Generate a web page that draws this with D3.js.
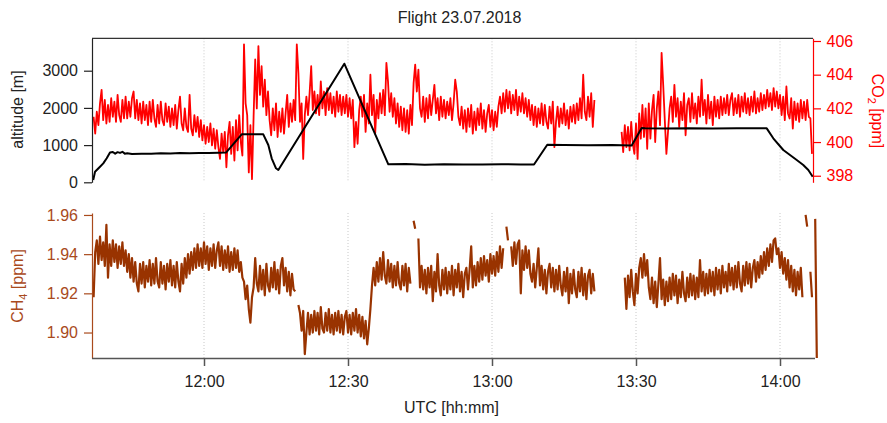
<!DOCTYPE html>
<html>
<head>
<meta charset="utf-8">
<script src="https://cdn.jsdelivr.net/npm/d3@7"></script>
<style>
  html, body { margin: 0; padding: 0; background: #fff; }
  svg { display: block; font-family: "Liberation Sans", Arial, sans-serif; }
</style>
</head>
<body>
<svg id="chart" width="887" height="423"></svg>
<script>
// ---- labels and ticks ----
const chartTitle = "Flight 23.07.2018";
const timeTicks = ["12:00", "12:30", "13:00", "13:30", "14:00"];
const altitudeTicks = [0, 1000, 2000, 3000];
const co2Ticks = [398, 400, 402, 404, 406];
const ch4Ticks = [1.90, 1.92, 1.94, 1.96];

// ---- flight altitude (UTC time, metres) ----
const altitudeTimes = ["11:36:55","11:37:18","11:38:20","11:39:01","11:39:44","11:40:25","11:41:00","11:41:30","11:42:00","11:42:30",
  "11:43:00","11:43:30","11:44:00","11:45:00","11:47:00","11:49:00","11:51:00","11:53:00","11:55:00","11:57:00",
  "11:59:00","12:01:00","12:03:00","12:04:35","12:07:51","12:12:21","12:13:24","12:14:06","12:15:00","12:15:29",
  "12:29:14","12:38:24","12:42:00","12:46:00","12:50:00","12:54:00","12:58:00","13:02:00","13:06:00","13:08:45",
  "13:11:31","13:15:00","13:20:00","13:25:00","13:29:06","13:31:11","13:31:54","13:36:00","13:41:00","13:46:00",
  "13:51:00","13:57:14","13:58:36","14:00:41","14:02:05","14:03:29","14:04:51","14:05:54","14:06:49"];
const altitudeValues = [60,285,420,510,645,800,815,770,810,790,
  820,770,780,760,770,765,780,775,785,780,
  790,785,795,800,1290,1290,1003,645,376,330,
  3188,484,490,475,485,480,478,486,480,480,
  1010,1000,995,1000,990,1460,1450,1445,1455,1448,
  1452,1450,1183,868,734,600,465,331,150];

// ---- trace gas samples: one value every 20 s from 11:37:00 UTC, null = no data ----
const sampleStart = "11:37:00";
const sampleStepSeconds = 20;

const co2Values = [
  401.5,400.5,401.8,401.0,402.3,403.1,401.3,402.5,401.1,402.2,
  401.2,402.6,401.5,402.4,401.2,402.8,401.6,401.2,402.5,401.4,
  402.7,401.4,402.4,401.5,402.6,403.0,401.4,402.5,401.3,402.3,
  401.1,402.4,401.3,402.2,401.0,402.4,401.2,402.5,401.4,400.9,
  402.2,401.1,402.4,401.3,401.0,402.3,401.2,402.1,400.9,402.0,
  401.0,402.2,400.8,401.9,402.7,401.1,400.7,402.0,400.9,400.6,
  402.8,400.8,400.4,401.6,400.6,401.5,400.3,401.3,400.1,401.0,
  399.9,400.9,400.0,401.1,399.8,400.8,399.6,400.7,399.7,399.0,
  400.5,399.4,400.6,398.5,400.4,401.2,399.3,400.9,398.9,401.3,
  399.5,401.6,400.0,399.2,405.8,402.3,401.6,398.2,401.0,397.8,
  401.5,404.9,402.0,405.7,402.8,404.5,402.1,403.7,401.6,403.0,
  401.3,400.4,402.0,400.7,402.3,400.3,401.8,400.6,402.0,400.5,
  401.7,402.8,400.9,402.3,401.2,402.5,401.3,405.8,404.1,401.2,
  402.3,399.0,401.6,402.7,401.6,402.9,404.5,401.9,403.0,401.7,
  402.8,401.6,403.6,402.0,403.0,401.6,403.2,401.9,402.9,401.7,
  402.7,401.5,403.0,401.8,402.8,401.6,402.7,401.7,402.8,401.5,
  402.6,401.4,402.5,399.7,401.2,399.9,401.9,402.7,401.5,402.8,
  400.6,402.3,401.1,404.0,401.6,402.8,400.5,402.5,401.4,402.9,
  401.7,403.1,401.6,404.7,403.6,401.8,402.9,401.5,402.6,401.1,
  402.3,400.9,402.1,400.7,402.0,400.6,401.9,400.5,402.2,401.0,
  403.5,404.6,403.0,404.3,402.0,401.5,402.7,401.2,402.6,401.4,
  402.8,401.6,402.5,403.4,401.7,402.6,401.3,402.7,401.5,402.5,
  401.4,402.4,401.6,402.6,401.3,402.3,403.7,403.0,401.5,401.0,
  402.1,400.8,401.9,400.6,402.0,400.9,402.2,400.5,401.8,400.7,
  402.0,401.0,402.3,400.8,401.9,400.6,401.7,402.2,400.9,401.9,
  400.7,401.8,400.9,402.1,402.7,401.7,402.9,401.8,403.1,402.0,
  403.0,401.7,402.8,401.9,403.1,401.6,402.7,401.8,402.9,401.7,
  402.6,401.5,402.5,401.3,402.2,401.0,402.1,400.9,402.0,401.1,
  402.3,401.0,402.2,401.2,400.8,402.1,401.1,402.4,399.7,401.2,
  402.1,400.9,402.0,401.1,402.3,401.0,401.9,400.8,402.1,401.2,
  402.2,401.1,402.3,401.3,402.6,401.4,404.0,401.8,401.3,402.7,
  401.5,402.9,400.9,402.5,null,null,null,null,null,null,
  null,null,null,null,null,null,null,null,null,null,
  400.6,399.4,401.0,399.7,400.9,399.5,401.2,399.9,399.3,401.1,
  399.0,401.7,400.2,402.2,400.3,402.0,399.6,402.3,400.2,401.9,
  402.8,400.0,402.0,403.0,401.0,405.3,403.4,401.3,399.3,400.6,
  402.0,402.7,401.2,403.4,401.5,402.6,400.9,402.4,401.3,402.9,
  400.4,402.2,402.6,401.2,402.9,401.4,402.3,401.1,402.7,401.5,
  403.7,401.6,402.5,401.1,402.8,401.4,402.4,401.0,402.7,401.5,
  402.5,401.4,402.7,401.6,402.6,401.7,402.8,401.6,402.5,402.9,
  401.6,402.6,401.7,402.8,401.5,402.7,401.8,402.9,401.7,402.6,
  401.6,402.7,401.8,403.0,401.7,402.6,401.8,402.9,401.9,402.8,
  402.0,403.1,402.1,402.9,401.9,403.2,402.1,403.0,402.0,402.8,
  401.6,402.7,401.3,403.3,401.7,401.4,402.6,400.8,402.4,401.3,
  402.3,401.2,402.5,401.4,402.4,401.3,402.5,401.5,401.4,399.3
];

const ch4Values = [
  1.918,1.941,1.947,1.935,1.949,1.937,1.946,1.934,1.955,1.928,
  1.945,1.934,1.947,1.936,1.945,1.933,1.944,1.935,1.946,1.934,
  1.942,1.931,1.940,1.928,1.938,1.926,1.936,1.925,1.921,1.935,
  1.925,1.936,1.923,1.934,1.926,1.937,1.924,1.935,1.925,1.938,
  1.926,1.923,1.936,1.925,1.934,1.922,1.935,1.926,1.937,1.924,
  1.934,1.923,1.936,1.926,1.921,1.935,1.925,1.938,1.928,1.940,
  1.930,1.941,1.932,1.943,1.933,1.945,1.934,1.943,1.933,1.946,
  1.935,1.944,1.932,1.943,1.934,1.945,1.933,1.942,1.946,1.934,
  1.944,1.932,1.942,1.933,1.944,1.931,1.941,1.932,1.943,1.933,
  1.942,1.931,1.936,1.928,1.926,1.917,1.924,1.912,1.905,1.918,
  1.923,1.938,1.925,1.921,1.934,1.922,1.932,1.919,1.935,1.924,
  1.921,1.933,1.923,1.936,1.922,1.932,1.920,1.934,1.938,1.924,
  1.933,1.921,1.931,1.919,1.930,1.922,1.921,null,1.914,1.910,
  1.901,1.911,1.889,1.900,1.910,1.899,1.909,1.900,1.911,1.901,
  1.910,1.899,1.913,1.902,1.900,1.910,1.901,1.912,1.900,1.909,
  1.899,1.910,1.901,1.911,1.900,1.909,1.899,1.908,1.911,1.900,
  1.909,1.899,1.910,1.901,1.912,1.900,1.909,1.898,1.908,1.897,
  1.906,1.894,1.902,1.912,1.924,1.933,1.924,1.936,1.926,1.938,
  1.927,1.941,1.929,1.925,1.937,1.926,1.935,1.923,1.934,1.924,
  1.936,1.925,1.922,1.934,1.924,1.935,1.921,1.933,1.925,null,
  1.957,1.953,null,1.948,1.923,1.934,1.922,1.932,1.920,1.933,
  1.923,1.934,1.916,1.931,1.921,1.940,1.924,1.919,1.932,1.922,
  1.933,1.920,1.931,1.922,1.934,1.919,1.932,1.923,1.935,1.921,
  1.931,1.918,1.930,1.933,1.922,1.932,1.944,1.923,1.934,1.924,
  1.936,1.926,1.938,1.927,1.939,1.929,1.937,1.926,1.940,1.930,
  1.939,1.929,1.941,1.931,1.944,1.933,1.943,null,1.954,1.947,
  null,1.944,1.934,1.946,1.935,1.945,1.947,1.920,1.942,1.932,
  1.944,1.933,1.942,1.930,1.926,1.935,1.923,1.933,1.943,1.924,
  1.934,1.922,1.932,1.920,1.931,1.935,1.923,1.933,1.921,1.932,
  1.922,1.934,1.924,1.919,1.931,1.921,1.933,1.915,1.930,1.920,
  1.932,1.922,1.918,1.931,1.921,1.933,1.919,1.930,1.917,1.929,
  1.932,1.920,1.930,1.921,null,null,null,null,null,null,
  null,null,null,null,null,null,null,null,null,null,
  null,null,1.928,1.912,1.929,1.918,1.932,1.921,1.914,1.930,
  1.920,1.933,1.938,1.928,1.940,1.929,1.937,1.923,1.917,1.928,
  1.915,1.926,1.913,1.925,1.938,1.917,1.927,1.914,1.926,1.916,
  1.928,1.917,1.930,1.919,1.929,1.915,1.927,1.918,1.931,1.920,
  1.916,1.928,1.918,1.930,1.919,1.929,1.917,1.928,1.918,1.937,
  1.921,1.931,1.919,1.930,1.920,1.932,1.921,1.931,1.919,1.933,
  1.922,1.932,1.920,1.934,1.923,1.931,1.921,1.935,1.924,1.933,
  1.922,1.934,1.923,1.936,1.925,1.921,1.934,1.924,1.936,1.925,
  1.935,1.923,1.933,1.937,1.926,1.936,1.928,1.939,1.930,1.941,
  1.932,1.943,1.934,1.945,1.936,1.947,1.948,1.940,1.943,1.933,
  1.941,1.930,1.938,1.927,1.937,1.923,1.934,1.921,1.932,1.919,
  1.931,1.922,1.933,1.918,null,1.960,1.954,null,1.931,1.918,
  null,1.958,1.887
];

// ---- colours ----
const co2Color = "#ff0000";
const ch4Color = "#993300";
const ch4AxisColor = "#a94a1c";
const altColor = "#000000";

// ---- helpers ----
function toDate(hms) {
  const [h, m, s] = hms.split(":").map(Number);
  return new Date(Date.UTC(2018, 6, 23, h, m, s || 0));
}
const t0 = toDate(sampleStart).getTime();
const sampleTime = i => new Date(t0 + i * sampleStepSeconds * 1000);

const altitude = altitudeTimes.map((t, i) => ({ t: toDate(t), v: altitudeValues[i] }));
const co2 = co2Values.map((v, i) => ({ t: sampleTime(i), v }));
const ch4 = ch4Values.map((v, i) => ({ t: sampleTime(i), v }));

// ---- layout ----
const svg = d3.select("#chart");
const left = 92, right = 814;
const top1 = 38.3, bottom1 = 182.3;     // upper panel: altitude + CO2
const top2 = 213, bottom2 = 358;        // lower panel: CH4

const x = d3.scaleUtc()
  .domain([toDate("11:36:40"), toDate("14:07:05")])
  .range([left, right]);
const yAlt = d3.scaleLinear().domain([0, 3871]).range([bottom1, top1]);
const yCO2 = d3.scaleLinear().domain([397.61, 406.16]).range([bottom1, top1]);
const yCH4 = d3.scaleLinear().domain([1.887, 1.961]).range([bottom2, top2]);

const tickDates = timeTicks.map(toDate);

// vertical dotted grid in both panels
const grid = svg.append("g");
[[top1, bottom1], [top2, bottom2]].forEach(([y0, y1]) => {
  grid.selectAll(null).data(tickDates).enter().append("line")
    .attr("x1", d => x(d)).attr("x2", d => x(d))
    .attr("y1", y0).attr("y2", y1)
    .attr("stroke", "#c8c8c8").attr("stroke-width", 1)
    .attr("stroke-dasharray", "1,2");
});

// upper panel frame line
svg.append("line")
  .attr("x1", left).attr("x2", 813).attr("y1", top1).attr("y2", top1)
  .attr("stroke", "#333").attr("stroke-width", 1.2);

// ---- traces ----
const lineOf = yScale => d3.line()
  .defined(d => d.v != null)
  .x(d => x(d.t))
  .y(d => yScale(d.v));

svg.append("path").datum(co2)
  .attr("d", lineOf(yCO2))
  .attr("fill", "none").attr("stroke", co2Color)
  .attr("stroke-width", 1.8).attr("stroke-linejoin", "round");

svg.append("path").datum(altitude)
  .attr("d", lineOf(yAlt))
  .attr("fill", "none").attr("stroke", altColor)
  .attr("stroke-width", 2).attr("stroke-linejoin", "round");

svg.append("path").datum(ch4)
  .attr("d", lineOf(yCH4))
  .attr("fill", "none").attr("stroke", ch4Color)
  .attr("stroke-width", 2.2).attr("stroke-linejoin", "round");

// ---- axes ----
function styleAxis(g, color, width) {
  g.select(".domain").attr("stroke", color).attr("stroke-width", width);
  g.selectAll(".tick line").attr("stroke", color).attr("stroke-width", width);
  g.selectAll(".tick text").attr("fill", color)
    .style("font-size", "16px").style("font-family", '"Liberation Sans", Arial, sans-serif');
}

const axAlt = svg.append("g").attr("transform", `translate(${left},0)`)
  .call(d3.axisLeft(yAlt).tickValues(altitudeTicks).tickFormat(d3.format("d"))
    .tickSize(8).tickSizeOuter(0).tickPadding(6));
styleAxis(axAlt, "#222", 1.2);

const axCO2 = svg.append("g").attr("transform", "translate(813,0)")
  .call(d3.axisRight(yCO2).tickValues(co2Ticks).tickFormat(d3.format("d"))
    .tickSize(8).tickSizeOuter(0).tickPadding(5.5));
styleAxis(axCO2, co2Color, 1.2);

const axCH4 = svg.append("g").attr("transform", `translate(${left},0)`)
  .call(d3.axisLeft(yCH4).tickValues(ch4Ticks).tickFormat(d3.format(".2f"))
    .tickSize(8).tickSizeOuter(0).tickPadding(6));
styleAxis(axCH4, ch4AxisColor, 1.2);

const axTime = svg.append("g").attr("transform", `translate(0,${bottom2})`)
  .call(d3.axisBottom(x).tickValues(tickDates).tickFormat((d, i) => timeTicks[i])
    .tickSize(8).tickSizeOuter(0).tickPadding(9.5));
styleAxis(axTime, "#555", 1.5);
axTime.select(".domain").attr("d", `M${left},0.5H815`);
axTime.selectAll(".tick text").attr("fill", "#222");

// ---- titles ----
svg.append("text")
  .attr("x", 459.5).attr("y", 23).attr("text-anchor", "middle")
  .style("font-size", "16px").attr("fill", "#222")
  .text(chartTitle);

svg.append("text")
  .attr("x", 451.5).attr("y", 413).attr("text-anchor", "middle")
  .style("font-size", "16px").attr("fill", "#222")
  .text("UTC [hh:mm]");

svg.append("text")
  .attr("transform", "translate(23,109.5) rotate(-90)")
  .attr("text-anchor", "middle")
  .style("font-size", "16px").attr("fill", "#222")
  .text("altitude [m]");

const co2Label = svg.append("text")
  .attr("transform", "translate(871.5,111) rotate(90)")
  .attr("text-anchor", "middle")
  .style("font-size", "16px").attr("fill", co2Color);
co2Label.append("tspan").text("CO");
co2Label.append("tspan").attr("dy", 4).style("font-size", "11px").text("2");
co2Label.append("tspan").attr("dy", -4).text(" [ppm]");

const ch4Label = svg.append("text")
  .attr("transform", "translate(22.5,286) rotate(-90)")
  .attr("text-anchor", "middle")
  .style("font-size", "16px").attr("fill", ch4AxisColor);
ch4Label.append("tspan").text("CH");
ch4Label.append("tspan").attr("dy", 4).style("font-size", "11px").text("4");
ch4Label.append("tspan").attr("dy", -4).text(" [ppm]");
</script>
</body>
</html>
